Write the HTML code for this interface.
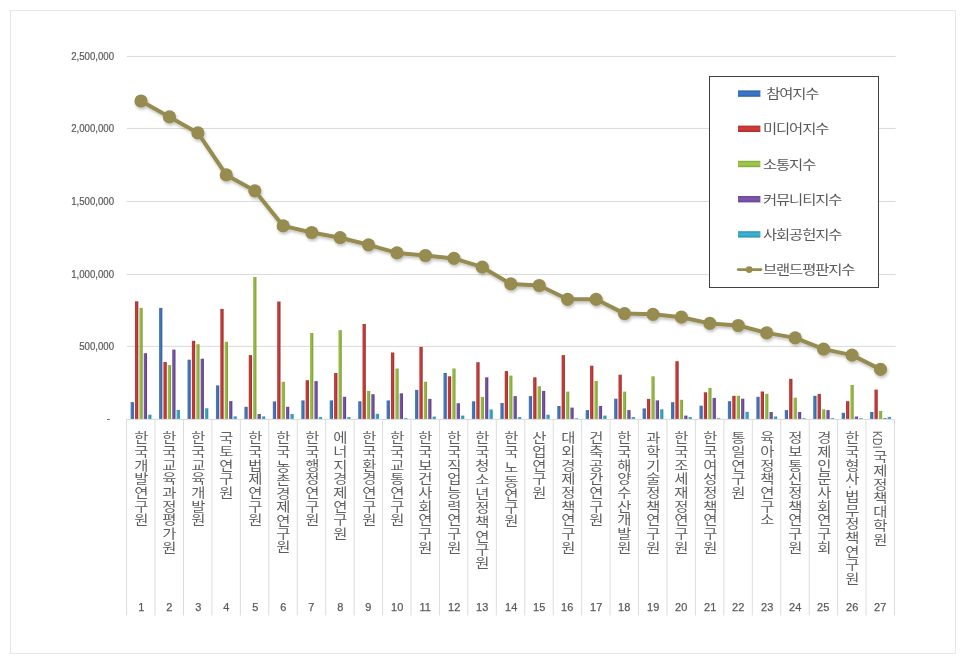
<!DOCTYPE html>
<html lang="ko"><head><meta charset="utf-8"><title>브랜드평판지수</title>
<style>
html,body{margin:0;padding:0;background:#fff;}
body{width:966px;height:663px;position:relative;overflow:hidden;font-family:"Liberation Sans","Noto Sans CJK KR",sans-serif;color:#595959;}
#frame{position:absolute;left:10px;top:10px;width:944px;height:642px;border:1px solid #e6e6e6;}
svg{position:absolute;left:0;top:0;}
.yl{position:absolute;right:851.6px;width:80px;text-align:right;font-size:9.9px;line-height:12px;height:12px;color:#595959;letter-spacing:0px;-webkit-text-stroke:0.2px #595959;transform:scale(0.975,1.06);transform-origin:100% 50%;white-space:nowrap;}
.cat{position:absolute;top:431px;writing-mode:vertical-rl;text-orientation:mixed;font-size:12.8px;letter-spacing:0.9px;line-height:28.44px;width:28.44px;height:170px;color:#5e5e5e;white-space:pre;font-weight:400;transform:scaleX(1.2);transform-origin:50% 0;}
.cat .sp{font-size:5.5px;letter-spacing:0;}
.cat .tight{letter-spacing:0.65px;}
.cat .dot{margin:-0.7px 0;}
.cat .en{font-size:10.2px;letter-spacing:0.3px;margin-bottom:1.2px;position:relative;left:-1.6px;}
.num{position:absolute;top:600.4px;width:28.44px;text-align:center;font-size:11.8px;line-height:15px;color:#595959;-webkit-text-stroke:0.25px #595959;transform:scaleX(0.93);}
#legend{position:absolute;left:709px;top:76px;width:168px;height:210px;border:1px solid #404040;background:#fff;box-sizing:content-box;}
.li{position:absolute;left:52.8px;font-size:12.8px;letter-spacing:-0.9px;line-height:18px;height:18px;color:#595959;white-space:pre;transform:scaleX(1.2);transform-origin:0 50%;}
</style></head><body>
<div id="frame"></div>

<svg width="966" height="663" viewBox="0 0 966 663">
<defs>
<linearGradient id="b" x1="0" x2="1" y1="0" y2="0"><stop offset="0" stop-color="#4a7dbf"/><stop offset="0.5" stop-color="#4373b3"/><stop offset="1" stop-color="#34609c"/></linearGradient>
<linearGradient id="r" x1="0" x2="1" y1="0" y2="0"><stop offset="0" stop-color="#b93535"/><stop offset="0.45" stop-color="#c63d3d"/><stop offset="1" stop-color="#9c2b2b"/></linearGradient>
<linearGradient id="g" x1="0" x2="1" y1="0" y2="0"><stop offset="0" stop-color="#9cc24c"/><stop offset="0.45" stop-color="#94ba45"/><stop offset="1" stop-color="#7a9c35"/></linearGradient>
<linearGradient id="p" x1="0" x2="1" y1="0" y2="0"><stop offset="0" stop-color="#7d5aa8"/><stop offset="0.45" stop-color="#7652a2"/><stop offset="1" stop-color="#5c3d84"/></linearGradient>
<linearGradient id="c" x1="0" x2="1" y1="0" y2="0"><stop offset="0" stop-color="#3fb0cc"/><stop offset="0.45" stop-color="#38a6c2"/><stop offset="1" stop-color="#2b86a0"/></linearGradient>
<filter id="sh" x="-5%" y="-5%" width="110%" height="115%"><feGaussianBlur in="SourceAlpha" stdDeviation="1.6"/><feOffset dx="0.5" dy="1.5" result="o"/><feComponentTransfer><feFuncA type="linear" slope="0.25"/></feComponentTransfer><feMerge><feMergeNode/><feMergeNode in="SourceGraphic"/></feMerge></filter>
</defs>
<line x1="126.8" x2="895.7" y1="56.45" y2="56.45" stroke="#d9d9d9" stroke-width="1"/>
<line x1="126.8" x2="895.7" y1="128.45" y2="128.45" stroke="#d9d9d9" stroke-width="1"/>
<line x1="126.8" x2="895.7" y1="201.45" y2="201.45" stroke="#d9d9d9" stroke-width="1"/>
<line x1="126.8" x2="895.7" y1="274.45" y2="274.45" stroke="#d9d9d9" stroke-width="1"/>
<line x1="126.8" x2="895.7" y1="346.40" y2="346.40" stroke="#d9d9d9" stroke-width="1"/>
<rect x="130.62" y="402.10" width="3.30" height="16.90" fill="url(#b)"/>
<rect x="134.99" y="301.30" width="3.30" height="117.70" fill="url(#r)"/>
<rect x="139.37" y="307.90" width="3.30" height="111.10" fill="url(#g)"/>
<rect x="143.75" y="353.20" width="3.30" height="65.80" fill="url(#p)"/>
<rect x="148.12" y="414.70" width="3.30" height="4.30" fill="url(#c)"/>
<rect x="159.06" y="307.90" width="3.30" height="111.10" fill="url(#b)"/>
<rect x="163.44" y="362.00" width="3.30" height="57.00" fill="url(#r)"/>
<rect x="167.81" y="365.10" width="3.30" height="53.90" fill="url(#g)"/>
<rect x="172.19" y="349.60" width="3.30" height="69.40" fill="url(#p)"/>
<rect x="176.56" y="409.90" width="3.30" height="9.10" fill="url(#c)"/>
<rect x="187.50" y="359.70" width="3.30" height="59.30" fill="url(#b)"/>
<rect x="191.88" y="340.80" width="3.30" height="78.20" fill="url(#r)"/>
<rect x="196.25" y="344.20" width="3.30" height="74.80" fill="url(#g)"/>
<rect x="200.63" y="358.70" width="3.30" height="60.30" fill="url(#p)"/>
<rect x="205.00" y="408.30" width="3.30" height="10.70" fill="url(#c)"/>
<rect x="215.94" y="385.40" width="3.30" height="33.60" fill="url(#b)"/>
<rect x="220.32" y="308.90" width="3.30" height="110.10" fill="url(#r)"/>
<rect x="224.69" y="341.80" width="3.30" height="77.20" fill="url(#g)"/>
<rect x="229.07" y="401.10" width="3.30" height="17.90" fill="url(#p)"/>
<rect x="233.44" y="416.40" width="3.30" height="2.60" fill="url(#c)"/>
<rect x="244.38" y="406.80" width="3.30" height="12.20" fill="url(#b)"/>
<rect x="248.76" y="355.10" width="3.30" height="63.90" fill="url(#r)"/>
<rect x="253.13" y="277.00" width="3.30" height="142.00" fill="url(#g)"/>
<rect x="257.51" y="414.00" width="3.30" height="5.00" fill="url(#p)"/>
<rect x="261.88" y="416.40" width="3.30" height="2.60" fill="url(#c)"/>
<rect x="272.82" y="401.40" width="3.30" height="17.60" fill="url(#b)"/>
<rect x="277.20" y="301.50" width="3.30" height="117.50" fill="url(#r)"/>
<rect x="281.57" y="381.80" width="3.30" height="37.20" fill="url(#g)"/>
<rect x="285.95" y="406.80" width="3.30" height="12.20" fill="url(#p)"/>
<rect x="290.33" y="414.00" width="3.30" height="5.00" fill="url(#c)"/>
<rect x="301.26" y="400.40" width="3.30" height="18.60" fill="url(#b)"/>
<rect x="305.64" y="380.20" width="3.30" height="38.80" fill="url(#r)"/>
<rect x="310.01" y="333.00" width="3.30" height="86.00" fill="url(#g)"/>
<rect x="314.39" y="381.10" width="3.30" height="37.90" fill="url(#p)"/>
<rect x="318.77" y="417.10" width="3.30" height="1.90" fill="url(#c)"/>
<rect x="329.70" y="400.40" width="3.30" height="18.60" fill="url(#b)"/>
<rect x="334.08" y="373.00" width="3.30" height="46.00" fill="url(#r)"/>
<rect x="338.46" y="330.10" width="3.30" height="88.90" fill="url(#g)"/>
<rect x="342.83" y="396.80" width="3.30" height="22.20" fill="url(#p)"/>
<rect x="347.21" y="417.10" width="3.30" height="1.90" fill="url(#c)"/>
<rect x="358.15" y="401.30" width="3.30" height="17.70" fill="url(#b)"/>
<rect x="362.52" y="324.00" width="3.30" height="95.00" fill="url(#r)"/>
<rect x="366.90" y="390.90" width="3.30" height="28.10" fill="url(#g)"/>
<rect x="371.27" y="394.20" width="3.30" height="24.80" fill="url(#p)"/>
<rect x="375.65" y="413.80" width="3.30" height="5.20" fill="url(#c)"/>
<rect x="386.59" y="400.40" width="3.30" height="18.60" fill="url(#b)"/>
<rect x="390.96" y="352.50" width="3.30" height="66.50" fill="url(#r)"/>
<rect x="395.34" y="368.50" width="3.30" height="50.50" fill="url(#g)"/>
<rect x="399.71" y="393.30" width="3.30" height="25.70" fill="url(#p)"/>
<rect x="404.09" y="418.10" width="3.30" height="0.90" fill="url(#c)"/>
<rect x="415.03" y="389.90" width="3.30" height="29.10" fill="url(#b)"/>
<rect x="419.40" y="346.90" width="3.30" height="72.10" fill="url(#r)"/>
<rect x="423.78" y="381.70" width="3.30" height="37.30" fill="url(#g)"/>
<rect x="428.15" y="398.90" width="3.30" height="20.10" fill="url(#p)"/>
<rect x="432.53" y="416.60" width="3.30" height="2.40" fill="url(#c)"/>
<rect x="443.47" y="373.00" width="3.30" height="46.00" fill="url(#b)"/>
<rect x="447.84" y="376.30" width="3.30" height="42.70" fill="url(#r)"/>
<rect x="452.22" y="368.50" width="3.30" height="50.50" fill="url(#g)"/>
<rect x="456.59" y="403.20" width="3.30" height="15.80" fill="url(#p)"/>
<rect x="460.97" y="415.60" width="3.30" height="3.40" fill="url(#c)"/>
<rect x="471.91" y="401.30" width="3.30" height="17.70" fill="url(#b)"/>
<rect x="476.28" y="362.20" width="3.30" height="56.80" fill="url(#r)"/>
<rect x="480.66" y="397.00" width="3.30" height="22.00" fill="url(#g)"/>
<rect x="485.03" y="377.30" width="3.30" height="41.70" fill="url(#p)"/>
<rect x="489.41" y="409.50" width="3.30" height="9.50" fill="url(#c)"/>
<rect x="500.35" y="403.00" width="3.30" height="16.00" fill="url(#b)"/>
<rect x="504.72" y="371.10" width="3.30" height="47.90" fill="url(#r)"/>
<rect x="509.10" y="375.60" width="3.30" height="43.40" fill="url(#g)"/>
<rect x="513.48" y="396.10" width="3.30" height="22.90" fill="url(#p)"/>
<rect x="517.85" y="417.10" width="3.30" height="1.90" fill="url(#c)"/>
<rect x="528.79" y="396.10" width="3.30" height="22.90" fill="url(#b)"/>
<rect x="533.17" y="377.30" width="3.30" height="41.70" fill="url(#r)"/>
<rect x="537.54" y="386.20" width="3.30" height="32.80" fill="url(#g)"/>
<rect x="541.92" y="390.90" width="3.30" height="28.10" fill="url(#p)"/>
<rect x="546.29" y="414.70" width="3.30" height="4.30" fill="url(#c)"/>
<rect x="557.23" y="406.00" width="3.30" height="13.00" fill="url(#b)"/>
<rect x="561.61" y="355.10" width="3.30" height="63.90" fill="url(#r)"/>
<rect x="565.98" y="391.60" width="3.30" height="27.40" fill="url(#g)"/>
<rect x="570.36" y="407.60" width="3.30" height="11.40" fill="url(#p)"/>
<rect x="574.73" y="418.30" width="3.30" height="0.70" fill="url(#c)"/>
<rect x="585.67" y="410.10" width="3.30" height="8.90" fill="url(#b)"/>
<rect x="590.05" y="365.70" width="3.30" height="53.30" fill="url(#r)"/>
<rect x="594.42" y="381.00" width="3.30" height="38.00" fill="url(#g)"/>
<rect x="598.80" y="406.00" width="3.30" height="13.00" fill="url(#p)"/>
<rect x="603.17" y="415.60" width="3.30" height="3.40" fill="url(#c)"/>
<rect x="614.11" y="398.70" width="3.30" height="20.30" fill="url(#b)"/>
<rect x="618.49" y="374.70" width="3.30" height="44.30" fill="url(#r)"/>
<rect x="622.86" y="391.60" width="3.30" height="27.40" fill="url(#g)"/>
<rect x="627.24" y="410.10" width="3.30" height="8.90" fill="url(#p)"/>
<rect x="631.61" y="417.10" width="3.30" height="1.90" fill="url(#c)"/>
<rect x="642.55" y="408.40" width="3.30" height="10.60" fill="url(#b)"/>
<rect x="646.93" y="398.90" width="3.30" height="20.10" fill="url(#r)"/>
<rect x="651.30" y="376.30" width="3.30" height="42.70" fill="url(#g)"/>
<rect x="655.68" y="400.40" width="3.30" height="18.60" fill="url(#p)"/>
<rect x="660.05" y="409.30" width="3.30" height="9.70" fill="url(#c)"/>
<rect x="670.99" y="402.20" width="3.30" height="16.80" fill="url(#b)"/>
<rect x="675.37" y="361.20" width="3.30" height="57.80" fill="url(#r)"/>
<rect x="679.74" y="399.80" width="3.30" height="19.20" fill="url(#g)"/>
<rect x="684.12" y="415.60" width="3.30" height="3.40" fill="url(#p)"/>
<rect x="688.50" y="417.10" width="3.30" height="1.90" fill="url(#c)"/>
<rect x="699.43" y="405.70" width="3.30" height="13.30" fill="url(#b)"/>
<rect x="703.81" y="392.30" width="3.30" height="26.70" fill="url(#r)"/>
<rect x="708.19" y="387.90" width="3.30" height="31.10" fill="url(#g)"/>
<rect x="712.56" y="397.90" width="3.30" height="21.10" fill="url(#p)"/>
<rect x="716.94" y="418.20" width="3.30" height="0.80" fill="url(#c)"/>
<rect x="727.87" y="401.20" width="3.30" height="17.80" fill="url(#b)"/>
<rect x="732.25" y="395.80" width="3.30" height="23.20" fill="url(#r)"/>
<rect x="736.63" y="395.80" width="3.30" height="23.20" fill="url(#g)"/>
<rect x="741.00" y="398.70" width="3.30" height="20.30" fill="url(#p)"/>
<rect x="745.38" y="411.80" width="3.30" height="7.20" fill="url(#c)"/>
<rect x="756.32" y="396.80" width="3.30" height="22.20" fill="url(#b)"/>
<rect x="760.69" y="391.50" width="3.30" height="27.50" fill="url(#r)"/>
<rect x="765.07" y="393.90" width="3.30" height="25.10" fill="url(#g)"/>
<rect x="769.44" y="412.00" width="3.30" height="7.00" fill="url(#p)"/>
<rect x="773.82" y="416.50" width="3.30" height="2.50" fill="url(#c)"/>
<rect x="784.76" y="410.10" width="3.30" height="8.90" fill="url(#b)"/>
<rect x="789.13" y="378.80" width="3.30" height="40.20" fill="url(#r)"/>
<rect x="793.51" y="397.70" width="3.30" height="21.30" fill="url(#g)"/>
<rect x="797.88" y="412.00" width="3.30" height="7.00" fill="url(#p)"/>
<rect x="802.26" y="418.20" width="3.30" height="0.80" fill="url(#c)"/>
<rect x="813.20" y="395.80" width="3.30" height="23.20" fill="url(#b)"/>
<rect x="817.57" y="393.90" width="3.30" height="25.10" fill="url(#r)"/>
<rect x="821.95" y="409.30" width="3.30" height="9.70" fill="url(#g)"/>
<rect x="826.32" y="410.10" width="3.30" height="8.90" fill="url(#p)"/>
<rect x="830.70" y="418.20" width="3.30" height="0.80" fill="url(#c)"/>
<rect x="841.64" y="412.80" width="3.30" height="6.20" fill="url(#b)"/>
<rect x="846.01" y="401.20" width="3.30" height="17.80" fill="url(#r)"/>
<rect x="850.39" y="385.00" width="3.30" height="34.00" fill="url(#g)"/>
<rect x="854.76" y="416.50" width="3.30" height="2.50" fill="url(#p)"/>
<rect x="859.14" y="418.20" width="3.30" height="0.80" fill="url(#c)"/>
<rect x="870.08" y="412.00" width="3.30" height="7.00" fill="url(#b)"/>
<rect x="874.45" y="389.60" width="3.30" height="29.40" fill="url(#r)"/>
<rect x="878.83" y="410.90" width="3.30" height="8.10" fill="url(#g)"/>
<rect x="883.21" y="418.20" width="3.30" height="0.80" fill="url(#p)"/>
<rect x="887.58" y="416.90" width="3.30" height="2.10" fill="url(#c)"/>
<line x1="126.8" x2="894.7" y1="419.40" y2="419.40" stroke="#d9d9d9" stroke-width="1"/>
<line x1="126.60" x2="126.60" y1="418.9" y2="615.5" stroke="#dcdcdc" stroke-width="1"/>
<line x1="155.04" x2="155.04" y1="418.9" y2="615.5" stroke="#dcdcdc" stroke-width="1"/>
<line x1="183.48" x2="183.48" y1="418.9" y2="615.5" stroke="#dcdcdc" stroke-width="1"/>
<line x1="211.92" x2="211.92" y1="418.9" y2="615.5" stroke="#dcdcdc" stroke-width="1"/>
<line x1="240.36" x2="240.36" y1="418.9" y2="615.5" stroke="#dcdcdc" stroke-width="1"/>
<line x1="268.80" x2="268.80" y1="418.9" y2="615.5" stroke="#dcdcdc" stroke-width="1"/>
<line x1="297.24" x2="297.24" y1="418.9" y2="615.5" stroke="#dcdcdc" stroke-width="1"/>
<line x1="325.69" x2="325.69" y1="418.9" y2="615.5" stroke="#dcdcdc" stroke-width="1"/>
<line x1="354.13" x2="354.13" y1="418.9" y2="615.5" stroke="#dcdcdc" stroke-width="1"/>
<line x1="382.57" x2="382.57" y1="418.9" y2="615.5" stroke="#dcdcdc" stroke-width="1"/>
<line x1="411.01" x2="411.01" y1="418.9" y2="615.5" stroke="#dcdcdc" stroke-width="1"/>
<line x1="439.45" x2="439.45" y1="418.9" y2="615.5" stroke="#dcdcdc" stroke-width="1"/>
<line x1="467.89" x2="467.89" y1="418.9" y2="615.5" stroke="#dcdcdc" stroke-width="1"/>
<line x1="496.33" x2="496.33" y1="418.9" y2="615.5" stroke="#dcdcdc" stroke-width="1"/>
<line x1="524.77" x2="524.77" y1="418.9" y2="615.5" stroke="#dcdcdc" stroke-width="1"/>
<line x1="553.21" x2="553.21" y1="418.9" y2="615.5" stroke="#dcdcdc" stroke-width="1"/>
<line x1="581.65" x2="581.65" y1="418.9" y2="615.5" stroke="#dcdcdc" stroke-width="1"/>
<line x1="610.09" x2="610.09" y1="418.9" y2="615.5" stroke="#dcdcdc" stroke-width="1"/>
<line x1="638.53" x2="638.53" y1="418.9" y2="615.5" stroke="#dcdcdc" stroke-width="1"/>
<line x1="666.97" x2="666.97" y1="418.9" y2="615.5" stroke="#dcdcdc" stroke-width="1"/>
<line x1="695.41" x2="695.41" y1="418.9" y2="615.5" stroke="#dcdcdc" stroke-width="1"/>
<line x1="723.86" x2="723.86" y1="418.9" y2="615.5" stroke="#dcdcdc" stroke-width="1"/>
<line x1="752.30" x2="752.30" y1="418.9" y2="615.5" stroke="#dcdcdc" stroke-width="1"/>
<line x1="780.74" x2="780.74" y1="418.9" y2="615.5" stroke="#dcdcdc" stroke-width="1"/>
<line x1="809.18" x2="809.18" y1="418.9" y2="615.5" stroke="#dcdcdc" stroke-width="1"/>
<line x1="837.62" x2="837.62" y1="418.9" y2="615.5" stroke="#dcdcdc" stroke-width="1"/>
<line x1="866.06" x2="866.06" y1="418.9" y2="615.5" stroke="#dcdcdc" stroke-width="1"/>
<line x1="894.50" x2="894.50" y1="418.9" y2="615.5" stroke="#dcdcdc" stroke-width="1"/>
<g filter="url(#sh)"><polyline points="141.0,101.0 169.5,116.9 197.9,132.9 226.3,174.9 254.8,190.8 283.2,225.9 311.7,232.5 340.1,237.7 368.5,244.8 397.0,252.9 425.4,255.5 453.9,258.4 482.3,267.2 510.8,283.9 539.2,285.5 567.6,299.3 596.1,299.3 624.5,313.6 653.0,314.3 681.4,317.2 709.8,323.4 738.3,325.5 766.7,332.9 795.2,337.9 823.6,349.1 852.0,355.1 880.5,369.4" fill="none" stroke="#968c50" stroke-width="4" stroke-linejoin="round" stroke-linecap="round"/>
<circle cx="141.0" cy="101.0" r="6.6" fill="#968c50"/>
<circle cx="169.5" cy="116.9" r="6.6" fill="#968c50"/>
<circle cx="197.9" cy="132.9" r="6.6" fill="#968c50"/>
<circle cx="226.3" cy="174.9" r="6.6" fill="#968c50"/>
<circle cx="254.8" cy="190.8" r="6.6" fill="#968c50"/>
<circle cx="283.2" cy="225.9" r="6.6" fill="#968c50"/>
<circle cx="311.7" cy="232.5" r="6.6" fill="#968c50"/>
<circle cx="340.1" cy="237.7" r="6.6" fill="#968c50"/>
<circle cx="368.5" cy="244.8" r="6.6" fill="#968c50"/>
<circle cx="397.0" cy="252.9" r="6.6" fill="#968c50"/>
<circle cx="425.4" cy="255.5" r="6.6" fill="#968c50"/>
<circle cx="453.9" cy="258.4" r="6.6" fill="#968c50"/>
<circle cx="482.3" cy="267.2" r="6.6" fill="#968c50"/>
<circle cx="510.8" cy="283.9" r="6.6" fill="#968c50"/>
<circle cx="539.2" cy="285.5" r="6.6" fill="#968c50"/>
<circle cx="567.6" cy="299.3" r="6.6" fill="#968c50"/>
<circle cx="596.1" cy="299.3" r="6.6" fill="#968c50"/>
<circle cx="624.5" cy="313.6" r="6.6" fill="#968c50"/>
<circle cx="653.0" cy="314.3" r="6.6" fill="#968c50"/>
<circle cx="681.4" cy="317.2" r="6.6" fill="#968c50"/>
<circle cx="709.8" cy="323.4" r="6.6" fill="#968c50"/>
<circle cx="738.3" cy="325.5" r="6.6" fill="#968c50"/>
<circle cx="766.7" cy="332.9" r="6.6" fill="#968c50"/>
<circle cx="795.2" cy="337.9" r="6.6" fill="#968c50"/>
<circle cx="823.6" cy="349.1" r="6.6" fill="#968c50"/>
<circle cx="852.0" cy="355.1" r="6.6" fill="#968c50"/>
<circle cx="880.5" cy="369.4" r="6.6" fill="#968c50"/>
</g>
</svg>
<div class="yl" style="top:50.9px">2,500,000</div>
<div class="yl" style="top:122.8px">2,000,000</div>
<div class="yl" style="top:195.8px">1,500,000</div>
<div class="yl" style="top:268.8px">1,000,000</div>
<div class="yl" style="top:340.8px">500,000</div>
<div class="yl" style="top:413.2px;right:856px">-</div>
<div class="cat" style="left:125.00px">한국개발연구원</div>
<div class="num" style="left:126.80px">1</div>
<div class="cat" style="left:153.44px">한국교육과정평가원</div>
<div class="num" style="left:155.24px">2</div>
<div class="cat" style="left:181.88px">한국교육개발원</div>
<div class="num" style="left:183.68px">3</div>
<div class="cat" style="left:210.32px">국토연구원</div>
<div class="num" style="left:212.12px">4</div>
<div class="cat" style="left:238.76px">한국법제연구원</div>
<div class="num" style="left:240.56px">5</div>
<div class="cat" style="left:267.20px">한국<span class="sp" style="font-size:5px"> </span><span style="letter-spacing:0.6px">농촌경제연구원</span></div>
<div class="num" style="left:269.00px">6</div>
<div class="cat" style="left:295.64px">한국행정연구원</div>
<div class="num" style="left:297.44px">7</div>
<div class="cat" style="left:324.09px">에너지경제연구원</div>
<div class="num" style="left:325.89px">8</div>
<div class="cat" style="left:352.53px">한국환경연구원</div>
<div class="num" style="left:354.33px">9</div>
<div class="cat" style="left:380.97px">한국교통연구원</div>
<div class="num" style="left:382.77px">10</div>
<div class="cat" style="left:409.41px">한국보건사회연구원</div>
<div class="num" style="left:411.21px">11</div>
<div class="cat" style="left:437.85px">한국직업능력연구원</div>
<div class="num" style="left:439.65px">12</div>
<div class="cat" style="left:466.29px"><span style="letter-spacing:1.1px">한국청소년정책</span><span class="sp" style="font-size:6.6px"> </span><span style="letter-spacing:0.2px">연구원</span></div>
<div class="num" style="left:468.09px">13</div>
<div class="cat" style="left:494.73px">한국<span class="sp" style="font-size:9.3px"> </span><span style="letter-spacing:0.45px">노동연구원</span></div>
<div class="num" style="left:496.53px">14</div>
<div class="cat" style="left:523.17px">산업연구원</div>
<div class="num" style="left:524.97px">15</div>
<div class="cat" style="left:551.61px">대외경제정책연구원</div>
<div class="num" style="left:553.41px">16</div>
<div class="cat" style="left:580.05px">건축공간연구원</div>
<div class="num" style="left:581.85px">17</div>
<div class="cat" style="left:608.49px">한국해양수산개발원</div>
<div class="num" style="left:610.29px">18</div>
<div class="cat" style="left:636.93px">과학기술정책연구원</div>
<div class="num" style="left:638.73px">19</div>
<div class="cat" style="left:665.37px">한국조세재정연구원</div>
<div class="num" style="left:667.17px">20</div>
<div class="cat" style="left:693.81px">한국여성정책연구원</div>
<div class="num" style="left:695.61px">21</div>
<div class="cat" style="left:722.26px">통일연구원</div>
<div class="num" style="left:724.06px">22</div>
<div class="cat" style="left:750.70px">육아정책연구소</div>
<div class="num" style="left:752.50px">23</div>
<div class="cat" style="left:779.14px">정보통신정책연구원</div>
<div class="num" style="left:780.94px">24</div>
<div class="cat" style="left:807.58px">경제인문사회연구회</div>
<div class="num" style="left:809.38px">25</div>
<div class="cat" style="left:836.02px">한국형사<span class="dot">·</span>법무정책연구원</div>
<div class="num" style="left:837.82px">26</div>
<div class="cat" style="left:864.46px"><span class="en">KDI</span>국제정책대학원</div>
<div class="num" style="left:866.26px">27</div>
<div id="legend">
<svg width="168" height="210" viewBox="0 0 168 210">
<linearGradient id="lb" x1="0" x2="0" y1="0" y2="1"><stop offset="0" stop-color="#2f62a8"/><stop offset="0.45" stop-color="#3b7ad0"/><stop offset="1" stop-color="#2f62a8"/></linearGradient>
<rect x="28" y="13.4" width="22.4" height="6.4" fill="url(#lb)"/>
<linearGradient id="lr" x1="0" x2="0" y1="0" y2="1"><stop offset="0" stop-color="#b03030"/><stop offset="0.45" stop-color="#d83a3a"/><stop offset="1" stop-color="#b03030"/></linearGradient>
<rect x="28" y="48.6" width="22.4" height="6.4" fill="url(#lr)"/>
<linearGradient id="lg" x1="0" x2="0" y1="0" y2="1"><stop offset="0" stop-color="#86aa3c"/><stop offset="0.45" stop-color="#a3cc4a"/><stop offset="1" stop-color="#86aa3c"/></linearGradient>
<rect x="28" y="83.8" width="22.4" height="6.4" fill="url(#lg)"/>
<linearGradient id="lp" x1="0" x2="0" y1="0" y2="1"><stop offset="0" stop-color="#674894"/><stop offset="0.45" stop-color="#8258b4"/><stop offset="1" stop-color="#674894"/></linearGradient>
<rect x="28" y="119.0" width="22.4" height="6.4" fill="url(#lp)"/>
<linearGradient id="lc" x1="0" x2="0" y1="0" y2="1"><stop offset="0" stop-color="#2f93b0"/><stop offset="0.45" stop-color="#3cb8d6"/><stop offset="1" stop-color="#2f93b0"/></linearGradient>
<rect x="28" y="154.2" width="22.4" height="6.4" fill="url(#lc)"/>
<line x1="28.2" x2="51" y1="192.6" y2="192.6" stroke="#968c50" stroke-width="2.8" stroke-linecap="round"/><circle cx="39.2" cy="192.6" r="3.4" fill="#968c50"/>
</svg>
<div class="li" style="top:8.1px"> 참여지수</div>
<div class="li" style="top:43.3px">미디어지수</div>
<div class="li" style="top:78.5px">소통지수</div>
<div class="li" style="top:113.7px">커뮤니티지수</div>
<div class="li" style="top:148.9px">사회공헌지수</div>
<div class="li" style="top:184.1px">브랜드평판지수</div>
</div>
</body></html>
